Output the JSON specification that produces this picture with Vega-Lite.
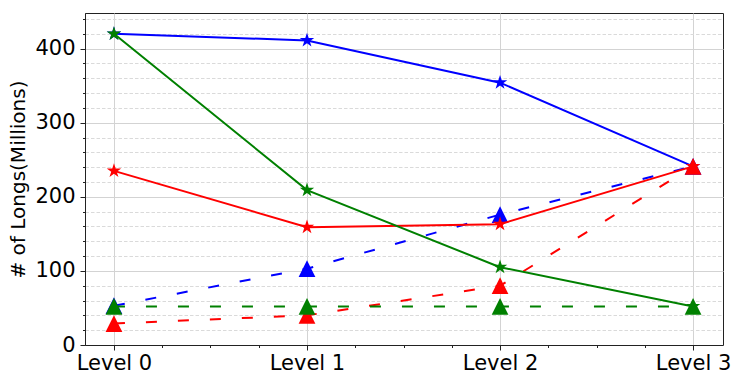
{
  "$schema": "https://vega.github.io/schema/vega-lite/v6.json",
  "width": 638,
  "height": 332,
  "autosize": {"type": "none"},
  "padding": {"left": 85, "top": 13, "right": 11, "bottom": 30},
  "data": {
    "values": [
      {"group": "G1", "kind": "solid", "level": 0, "value": 420},
      {"group": "G1", "kind": "solid", "level": 1, "value": 411},
      {"group": "G1", "kind": "solid", "level": 2, "value": 354},
      {"group": "G1", "kind": "solid", "level": 3, "value": 241},
      {"group": "G1", "kind": "dashed", "level": 0, "value": 53},
      {"group": "G1", "kind": "dashed", "level": 1, "value": 103},
      {"group": "G1", "kind": "dashed", "level": 2, "value": 176},
      {"group": "G1", "kind": "dashed", "level": 3, "value": 241},
      {"group": "G2", "kind": "solid", "level": 0, "value": 235},
      {"group": "G2", "kind": "solid", "level": 1, "value": 159},
      {"group": "G2", "kind": "solid", "level": 2, "value": 163},
      {"group": "G2", "kind": "solid", "level": 3, "value": 241},
      {"group": "G2", "kind": "dashed", "level": 0, "value": 29},
      {"group": "G2", "kind": "dashed", "level": 1, "value": 40},
      {"group": "G2", "kind": "dashed", "level": 2, "value": 80},
      {"group": "G2", "kind": "dashed", "level": 3, "value": 241},
      {"group": "G3", "kind": "solid", "level": 0, "value": 420},
      {"group": "G3", "kind": "solid", "level": 1, "value": 209},
      {"group": "G3", "kind": "solid", "level": 2, "value": 105},
      {"group": "G3", "kind": "solid", "level": 3, "value": 52},
      {"group": "G3", "kind": "dashed", "level": 0, "value": 52},
      {"group": "G3", "kind": "dashed", "level": 1, "value": 52},
      {"group": "G3", "kind": "dashed", "level": 2, "value": 52},
      {"group": "G3", "kind": "dashed", "level": 3, "value": 52}
    ]
  },
  "encoding": {
    "x": {
      "field": "level", "type": "quantitative",
      "scale": {"domain": [-0.15, 3.155], "nice": false, "zero": false},
      "axis": null
    },
    "y": {
      "field": "value", "type": "quantitative",
      "scale": {"domain": [0, 448], "nice": false, "zero": true},
      "axis": null
    },
    "color": {
      "field": "group", "type": "nominal",
      "scale": {"domain": ["G1", "G2", "G3"], "range": ["#0000ff", "#ff0000", "#008000"]},
      "legend": null
    }
  },
  "layer": [
    {
      "mark": {"type": "point", "opacity": 0},
      "encoding": {
        "x": {
          "field": "level", "type": "quantitative",
          "scale": {"domain": [-0.15, 3.155], "nice": false, "zero": false},
          "axis": {
            "orient": "bottom",
            "values": [0.25, 0.5, 0.75, 1.25, 1.5, 1.75, 2.25, 2.5, 2.75],
            "grid": false, "labels": false, "domain": false,
            "tickSize": 2.5, "title": null
          }
        },
        "y": {
          "field": "value", "type": "quantitative",
          "scale": {"domain": [0, 448], "nice": false, "zero": true},
          "axis": {
            "orient": "left",
            "values": [20, 40, 60, 80, 120, 140, 160, 180, 220, 240, 260, 280, 320, 340, 360, 380, 420, 440],
            "grid": true, "gridDash": [3.5, 2], "gridColor": "#dadada", "gridWidth": 1,
            "labels": false, "domain": false, "tickSize": 2.5, "title": null
          }
        }
      }
    },
    {
      "transform": [{"filter": "datum.group === 'G1' && datum.kind === 'solid'"}],
      "mark": {"type": "line", "strokeWidth": 2},
      "encoding": {
        "x": {
          "field": "level", "type": "quantitative",
          "scale": {"domain": [-0.15, 3.155], "nice": false, "zero": false},
          "axis": {
            "orient": "bottom",
            "values": [0, 1, 2, 3],
            "labelExpr": "'Level ' + datum.value",
            "grid": true, "gridColor": "#d3d3d3", "gridWidth": 1,
            "tickSize": 5, "labelPadding": 2, "title": null,
            "labelFlush": false
          }
        },
        "y": {
          "field": "value", "type": "quantitative",
          "scale": {"domain": [0, 448], "nice": false, "zero": true},
          "axis": {
            "orient": "left",
            "values": [0, 100, 200, 300, 400],
            "grid": true, "gridColor": "#d3d3d3", "gridWidth": 1,
            "tickSize": 5, "labelPadding": 5,
            "title": "# of Longs(Millions)", "titlePadding": 6
          }
        }
      }
    },
    {
      "transform": [{"filter": "datum.group === 'G1' && datum.kind === 'solid'"}],
      "mark": {"type": "point", "shape": "M0,-1L0.2245,-0.309L0.951,-0.309L0.363,0.118L0.588,0.809L0,0.382L-0.588,0.809L-0.363,0.118L-0.951,-0.309L-0.2245,-0.309Z", "size": 230, "filled": true, "opacity": 1},
      "encoding": {}
    },
    {
      "transform": [{"filter": "datum.group === 'G1' && datum.kind === 'dashed'"}],
      "mark": {"type": "line", "strokeWidth": 2, "strokeDash": [11, 21]},
      "encoding": {}
    },
    {
      "transform": [{"filter": "datum.group === 'G1' && datum.kind === 'dashed'"}],
      "mark": {"type": "point", "shape": "M0,-1L1,1L-1,1Z", "size": 280, "filled": true, "opacity": 1},
      "encoding": {}
    },
    {
      "transform": [{"filter": "datum.group === 'G2' && datum.kind === 'solid'"}],
      "mark": {"type": "line", "strokeWidth": 2},
      "encoding": {}
    },
    {
      "transform": [{"filter": "datum.group === 'G2' && datum.kind === 'solid'"}],
      "mark": {"type": "point", "shape": "M0,-1L0.2245,-0.309L0.951,-0.309L0.363,0.118L0.588,0.809L0,0.382L-0.588,0.809L-0.363,0.118L-0.951,-0.309L-0.2245,-0.309Z", "size": 230, "filled": true, "opacity": 1},
      "encoding": {}
    },
    {
      "transform": [{"filter": "datum.group === 'G2' && datum.kind === 'dashed'"}],
      "mark": {"type": "line", "strokeWidth": 2, "strokeDash": [11, 21]},
      "encoding": {}
    },
    {
      "transform": [{"filter": "datum.group === 'G2' && datum.kind === 'dashed'"}],
      "mark": {"type": "point", "shape": "M0,-1L1,1L-1,1Z", "size": 280, "filled": true, "opacity": 1},
      "encoding": {}
    },
    {
      "transform": [{"filter": "datum.group === 'G3' && datum.kind === 'solid'"}],
      "mark": {"type": "line", "strokeWidth": 2},
      "encoding": {}
    },
    {
      "transform": [{"filter": "datum.group === 'G3' && datum.kind === 'solid'"}],
      "mark": {"type": "point", "shape": "M0,-1L0.2245,-0.309L0.951,-0.309L0.363,0.118L0.588,0.809L0,0.382L-0.588,0.809L-0.363,0.118L-0.951,-0.309L-0.2245,-0.309Z", "size": 230, "filled": true, "opacity": 1},
      "encoding": {}
    },
    {
      "transform": [{"filter": "datum.group === 'G3' && datum.kind === 'dashed'"}],
      "mark": {"type": "line", "strokeWidth": 2, "strokeDash": [11, 21]},
      "encoding": {}
    },
    {
      "transform": [{"filter": "datum.group === 'G3' && datum.kind === 'dashed'"}],
      "mark": {"type": "point", "shape": "M0,-1L1,1L-1,1Z", "size": 280, "filled": true, "opacity": 1},
      "encoding": {}
    }
  ],
  "resolve": {"axis": {"x": "independent", "y": "independent"}},
  "config": {
    "font": "DejaVu Sans",
    "view": {"stroke": "#222222", "strokeWidth": 1},
    "axis": {
      "domainColor": "#222222",
      "tickColor": "#222222",
      "labelColor": "#000000",
      "titleColor": "#000000",
      "labelFont": "DejaVu Sans",
      "labelFontSize": 21,
      "titleFont": "DejaVu Sans",
      "titleFontSize": 20,
      "titleFontWeight": "normal"
    }
  }
}
